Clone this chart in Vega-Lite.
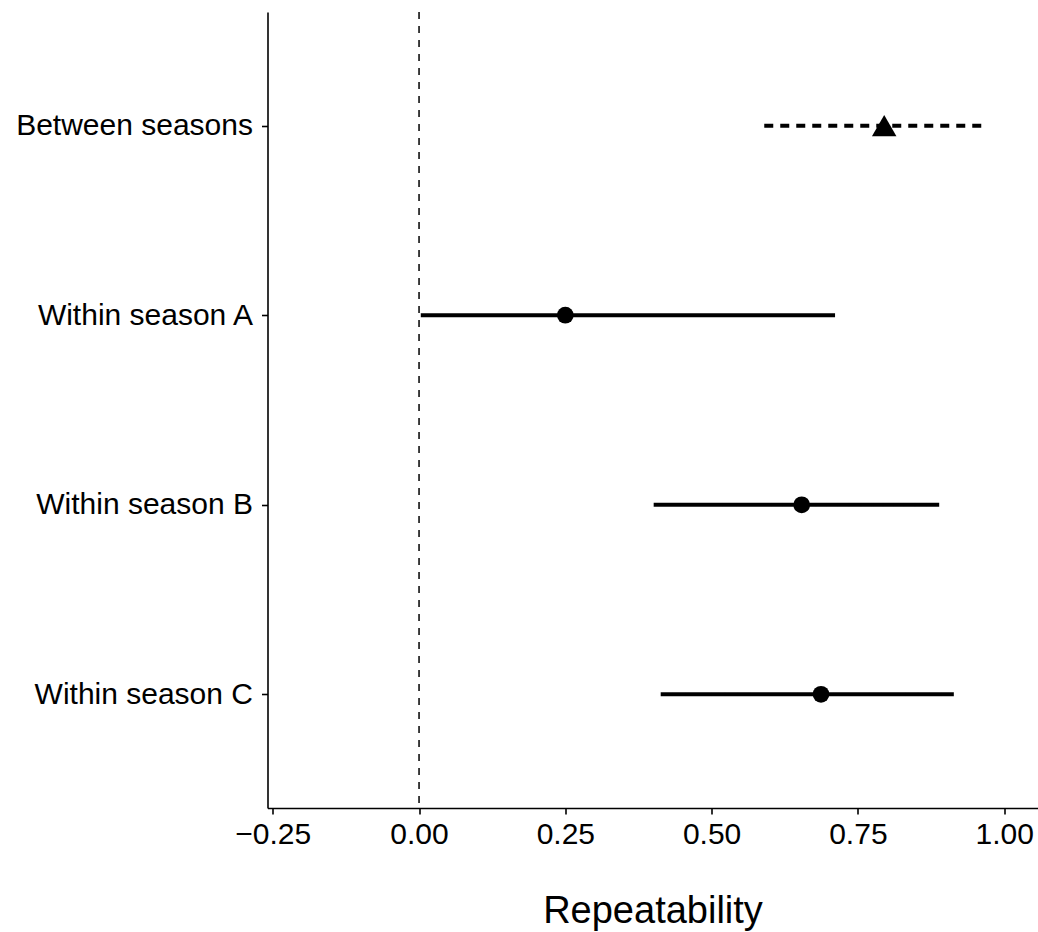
{
  "$schema": "https://vega.github.io/schema/vega-lite/v6.json",
  "autosize": "none",
  "width": 770,
  "height": 796,
  "padding": {"left": 267.5, "top": 12, "right": 0, "bottom": 124},
  "background": "white",
  "config": {
    "view": {"stroke": null},
    "font": "Liberation Sans",
    "axis": {
      "grid": false,
      "domainColor": "black",
      "domainWidth": 1.6,
      "tickColor": "black",
      "tickWidth": 1.6,
      "tickSize": 6,
      "labelColor": "black",
      "labelFont": "Liberation Sans",
      "labelFontSize": 30,
      "labelLimit": 500,
      "titleFont": "Liberation Sans",
      "titleFontWeight": "normal",
      "titleColor": "black"
    }
  },
  "datasets": {
    "est": [
      {"term": "Between seasons", "period": "between", "estimate": 0.795, "lower": 0.59, "upper": 0.967},
      {"term": "Within season A", "period": "within", "estimate": 0.25, "lower": 0.003, "upper": 0.711},
      {"term": "Within season B", "period": "within", "estimate": 0.654, "lower": 0.401, "upper": 0.889},
      {"term": "Within season C", "period": "within", "estimate": 0.687, "lower": 0.413, "upper": 0.914}
    ],
    "ref": [{"ref": 0}]
  },
  "layer": [
    {
      "data": {"name": "ref"},
      "mark": {"type": "rule", "color": "black", "strokeWidth": 1.5, "strokeDash": [7, 7]},
      "encoding": {
        "x": {"field": "ref", "type": "quantitative"}
      }
    },
    {
      "data": {"name": "est"},
      "mark": {"type": "rule", "color": "black", "strokeWidth": 4},
      "encoding": {
        "y": {"field": "term", "type": "nominal"},
        "x": {"field": "lower", "type": "quantitative"},
        "x2": {"field": "upper"},
        "strokeDash": {
          "field": "period", "type": "nominal",
          "scale": {"domain": ["between", "within"], "range": [[9, 7], [1, 0]]},
          "legend": null
        }
      }
    },
    {
      "data": {"name": "est"},
      "mark": {"type": "point", "filled": true, "color": "black", "opacity": 1},
      "encoding": {
        "y": {"field": "term", "type": "nominal"},
        "x": {"field": "estimate", "type": "quantitative"},
        "shape": {
          "field": "period", "type": "nominal",
          "scale": {"domain": ["between", "within"], "range": ["triangle-up", "circle"]},
          "legend": null
        },
        "size": {
          "field": "period", "type": "nominal",
          "scale": {"domain": ["between", "within"], "range": [600, 280]},
          "legend": null
        }
      }
    }
  ],
  "resolve": {"scale": {"x": "shared"}},
  "encoding": {
    "x": {
      "type": "quantitative",
      "scale": {"domain": [-0.259, 1.057], "nice": false, "zero": false},
      "axis": {
        "values": [-0.25, 0, 0.25, 0.5, 0.75, 1],
        "format": ".2f",
        "title": "Repeatability",
        "titleFontSize": 38,
        "titlePadding": 43,
        "labelFontSize": 30,
        "labelPadding": 5,
        "labelFlush": false
      }
    },
    "y": {
      "type": "nominal",
      "scale": {"type": "point", "padding": 0.6, "domain": ["Between seasons", "Within season A", "Within season B", "Within season C"]},
      "axis": {"title": null, "labelPadding": 9, "labelFontSize": 30, "labelLimit": 500}
    }
  }
}
